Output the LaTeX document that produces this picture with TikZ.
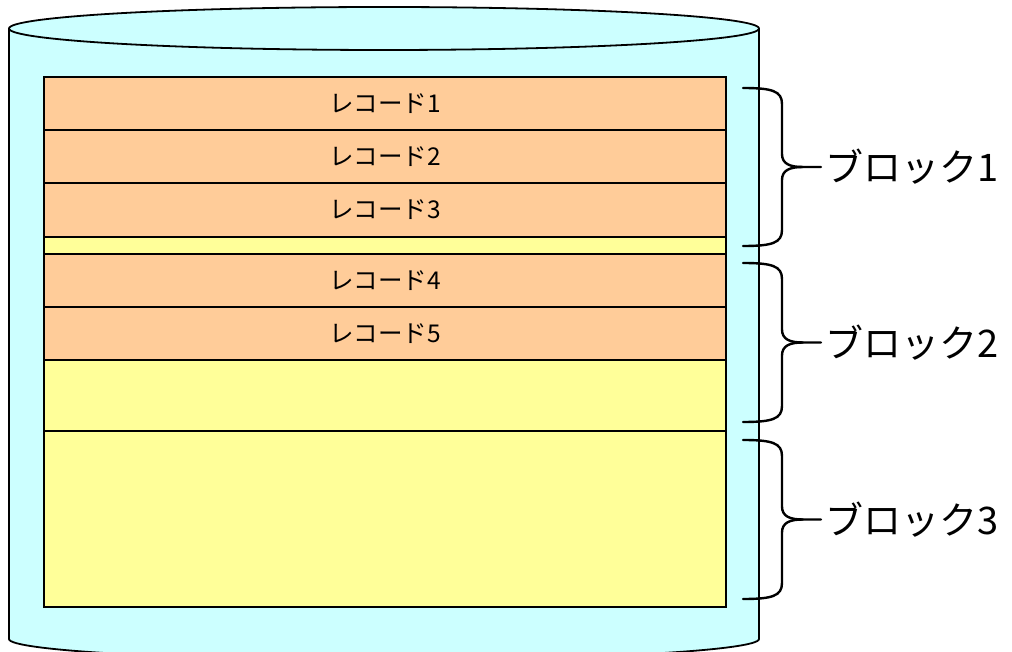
\documentclass[tikz,border=0pt]{standalone}
\usepackage{fontspec}
\newfontfamily\jp{Noto Sans CJK JP}
\definecolor{cylcol}{HTML}{CCFFFF}
\definecolor{reccol}{HTML}{FFCC99}
\definecolor{freecol}{HTML}{FFFF99}
\tikzset{
  rowbox/.style={draw=black, line width=1.6pt, minimum width=682pt, inner sep=0pt, outer sep=0pt, font=\jp\fontsize{24.5}{24.5}\selectfont},
  recbox/.style={rowbox, fill=reccol},
  freebox/.style={rowbox, fill=freecol},
  bracestyle/.style={draw=black, line width=2.4pt, line cap=round},
  blocklabel/.style={anchor=west, inner sep=0pt, font=\jp\fontsize{38}{38}\selectfont},
}
\begin{document}
\begin{tikzpicture}[x=1pt,y=1pt]
\useasboundingbox (0,0) rectangle (1012,651);
% cylinder
\fill[cylcol] (9,622.5) -- (9,12) arc[start angle=180, end angle=360, x radius=375, y radius=21] -- (759,622.5) -- cycle;
\draw[line width=1.8pt] (9,622.5) -- (9,12) arc[start angle=180, end angle=360, x radius=375, y radius=21] -- (759,622.5);
\draw[line width=1.8pt, fill=cylcol] (384,622.5) ellipse [x radius=375, y radius=21.5];
% rows
\node[recbox, minimum height=53pt] (r1) at (385,547.5) {レコード1};
\node[recbox, minimum height=53pt] (r2) at (385,494.5) {レコード2};
\node[recbox, minimum height=54pt] (r3) at (385,441) {レコード3};
\node[freebox, minimum height=17pt] (g1) at (385,405.5) {};
\node[recbox, minimum height=53pt] (r4) at (385,370.5) {レコード4};
\node[recbox, minimum height=53pt] (r5) at (385,317.5) {レコード5};
\node[freebox, minimum height=71pt] (g2) at (385,255.5) {};
\node[freebox, minimum height=176pt] (b3) at (385,132) {};
% braces
\foreach \t/\b/\n in {563/405/1, 388/229/2, 211/52/3}{
  \pgfmathsetmacro{\m}{(\t+\b)/2}
  \coordinate (bt\n) at (743,\t);
  \coordinate (bb\n) at (743,\b);
  \coordinate (tip\n) at (821,\m);
  \draw[bracestyle] (bt\n) .. controls (772,\t) and (782,\t-3) .. (782,\t-16)
     -- (782,\m+13) .. controls (782,\m+3) and (790,\m) .. (803,\m) -- (tip\n);
  \draw[bracestyle] (803,\m) .. controls (790,\m) and (782,\m-3) .. (782,\m-13)
     -- (782,\b+16) .. controls (782,\b+3) and (772,\b) .. (bb\n);
  \node[blocklabel] (lab\n) at (825,\m) {ブロック\n};
}
\end{tikzpicture}
\end{document}
